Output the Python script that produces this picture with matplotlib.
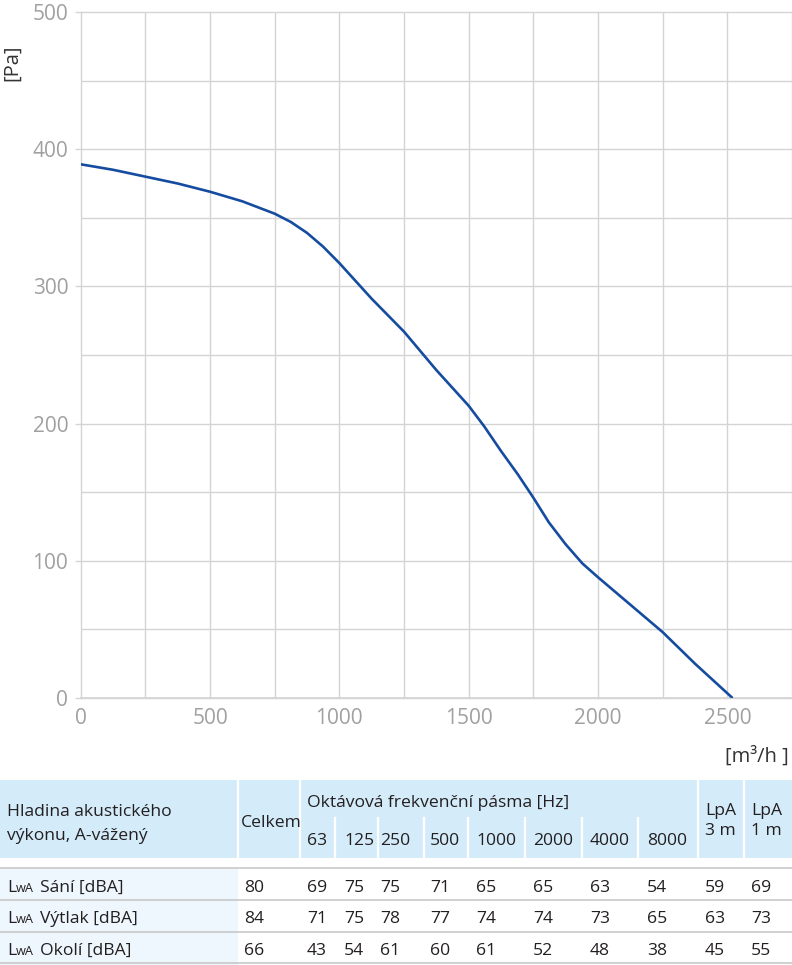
import numpy as np
import matplotlib.pyplot as plt
from matplotlib.ticker import MultipleLocator, FixedLocator

plt.rcParams['font.family'] = ['Open Sans', 'DejaVu Sans']

# fan curve
flow = [0, 125, 250, 375, 500, 625, 750, 812, 875, 937, 1000, 1125, 1250,
        1375, 1500, 1560, 1625, 1690, 1750, 1810, 1875, 1940, 2000, 2125,
        2250, 2375, 2520]
pressure = [389, 385, 380, 375, 369, 362, 353, 347, 339, 329, 317, 291, 267,
            239, 213, 198, 180, 163, 146, 128, 112, 98, 88, 68,
            48, 25, 0]

# acoustic table
bands = ['63', '125', '250', '500', '1000', '2000', '4000', '8000']
row_names = ['Sání [dBA]', 'Výtlak [dBA]', 'Okolí [dBA]']
total = [80, 84, 66]
band_values = [
    [69, 75, 75, 71, 65, 65, 63, 54],
    [71, 75, 78, 77, 74, 74, 73, 65],
    [43, 54, 61, 60, 61, 52, 48, 38],
]
lpa_3m = [59, 63, 45]
lpa_1m = [69, 73, 55]

W, H = 792, 965
fig = plt.figure(figsize=(W / 100, H / 100), dpi=100)

# ---- chart ----
x0, x1 = 80.7, 792.0
ytop, ybot = 12.0, 698.0
ax = fig.add_axes([x0 / W, 1 - ybot / H, (x1 - x0) / W, (ybot - ytop) / H])
grid_c = '#d4d4d4'
ax.plot(flow, pressure, color='#154ca0', lw=1.9, zorder=3,
        solid_joinstyle='round', solid_capstyle='butt')
ax.set_xlim(0, 2750)
ax.set_ylim(0, 500)
ax.xaxis.set_major_locator(MultipleLocator(500))
ax.xaxis.set_minor_locator(FixedLocator([250, 750, 1250, 1750, 2250, 2750]))
ax.yaxis.set_major_locator(MultipleLocator(100))
ax.yaxis.set_minor_locator(MultipleLocator(50))
ax.grid(True, which='both', color=grid_c, lw=1.0)
for s in ['top', 'right', 'left']:
    ax.spines[s].set_visible(False)
ax.spines['bottom'].set_color(grid_c)
ax.spines['bottom'].set_linewidth(1.2)
ax.tick_params(axis='y', which='major', length=4.5, color=grid_c, width=1.0,
               labelsize=15, labelcolor='#a0a0a0', pad=4.5)
ax.tick_params(axis='x', which='major', length=0, labelsize=15,
               labelcolor='#a0a0a0', pad=7)
ax.tick_params(which='minor', length=0)
for gl in ax.get_xgridlines() + ax.get_ygridlines():
    gl.set_clip_on(False)

fig.text(12 / W, 1 - 63 / H, '[Pa]', rotation=90, ha='center', va='center',
         fontsize=14.5, color='#333333')
fig.text(789 / W, 1 - 757 / H, '[m³/h ]', ha='right', va='center',
         fontsize=14.5, color='#333333')

# ---- table ----
tb = fig.add_axes([0, 0, 1, (H - 770) / H])
tb.set_xlim(0, W)
tb.set_ylim(H, 770)
tb.axis('off')

hdr_c = '#d4ecfa'
tb.add_patch(plt.Rectangle((0, 780), W, 78, color=hdr_c, lw=0))
for xv in [238, 300, 698, 744]:
    tb.plot([xv, xv], [780, 858], color='white', lw=1.6)
for xv in [335, 378, 424, 468, 525, 582, 638]:
    tb.plot([xv, xv], [818, 858], color='white', lw=1.6)

tb.add_patch(plt.Rectangle((0, 868), 238, 97, color='#eef7fd', lw=0))
for yv in [868, 900, 932, 963]:
    tb.plot([0, W], [yv, yv], color='#c8c8c8', lw=1.2)

txt = '#231f20'
fs = 12.6
tb.text(7, 816, 'Hladina akustického', fontsize=fs, color=txt, va='baseline')
tb.text(7, 840, 'výkonu, A-vážený', fontsize=fs, color=txt, va='baseline')
tb.text(241, 827, 'Celkem', fontsize=fs, color=txt, va='baseline')
tb.text(307, 807, 'Oktávová frekvenční pásma [Hz]', fontsize=fs, color=txt,
        va='baseline')
band_x = [307, 344, 380, 430, 476, 533, 590, 647]
for bx, b in zip(band_x, bands):
    tb.text(bx, 845, b, fontsize=fs, color=txt, va='baseline')
tb.text(705, 815, 'LpA', fontsize=fs, color=txt, va='baseline')
tb.text(705, 835, '3 m', fontsize=fs, color=txt, va='baseline')
tb.text(751, 815, 'LpA', fontsize=fs, color=txt, va='baseline')
tb.text(751, 835, '1 m', fontsize=fs, color=txt, va='baseline')

row_base = [892, 923, 955]
for i, yb in enumerate(row_base):
    tb.text(7, yb, 'L', fontsize=fs, color=txt, va='baseline')
    tb.text(16, yb, 'wA', fontsize=9.2, color=txt, va='baseline')
    tb.text(40, yb, row_names[i], fontsize=fs, color=txt, va='baseline')
    tb.text(244, yb, str(total[i]), fontsize=fs, color=txt, va='baseline')
    for bx, v in zip(band_x, band_values[i]):
        tb.text(bx, yb, str(v), fontsize=fs, color=txt, va='baseline')
    tb.text(705, yb, str(lpa_3m[i]), fontsize=fs, color=txt, va='baseline')
    tb.text(751, yb, str(lpa_1m[i]), fontsize=fs, color=txt, va='baseline')

fig.savefig('out.png', dpi=100)
